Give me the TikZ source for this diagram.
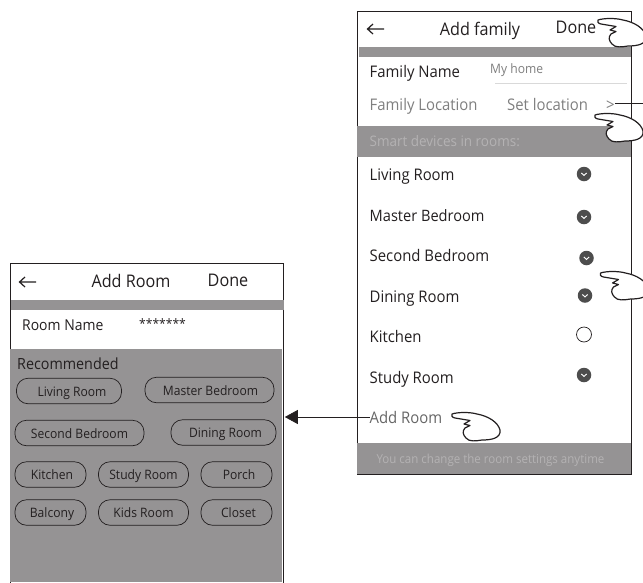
\documentclass[tikz,border=0pt]{standalone}
\usepackage{fontspec}
\setmainfont[FakeStretch=0.93]{Open Sans}
\usetikzlibrary{arrows.meta}
\definecolor{band}{HTML}{959394}
\definecolor{ink}{HTML}{231F20}
\definecolor{dim}{HTML}{7F7F7F}
\definecolor{faint}{HTML}{B4B2B3}
\definecolor{knob}{HTML}{4D4D4D}
\tikzset{
  panel/.style={draw=ink,line width=0.8pt,fill=white,inner sep=0pt,anchor=north west},
  grayband/.style={fill=band,draw=none},
  txt/.style={anchor=base west,inner sep=0pt,text=ink,font=\fontsize{16}{16}\selectfont},
  title/.style={anchor=base,inner sep=0pt,text=ink,font=\fontsize{17.4}{17}\selectfont},
  btn/.style={draw=ink,line width=0.7pt,rounded corners=11.5pt,inner sep=0pt,text=ink,
     font=\fontsize{13}{13}\selectfont,minimum height=25.5pt,text height=13pt,text depth=2.5pt},
  tick/.style={circle,fill=knob,minimum size=14.5pt,inner sep=0pt},
  back/.pic={\draw[ink,line width=1.2pt] (0,0) -- (16.5,0) (5.5,-5) -- (0,0) -- (5.5,5);},
  chk/.pic={\draw[white,line width=1pt] (-2.6,-1) -- (0,1.4) -- (2.6,-1);},
  hand/.pic={\draw[ink,line width=1.2pt,fill=white,line join=round]
    (0,0) .. controls (6,-2) and (18,-2) .. (25,0)
          .. controls (36,2) and (46,8) .. (48,16)
          .. controls (49,24) and (40,26) .. (30,26)
          .. controls (24,27) and (17,28) .. (14,24)
          .. controls (11,21) and (10,17) .. (13,14)
          -- (18,11.5) -- (12,10) -- (18,6.5) -- (3,4)
          .. controls (0,3.5) and (-1,1.5) .. (0,0) -- cycle;},
}
\begin{document}
\begin{tikzpicture}[x=1pt,y=-1pt]
\useasboundingbox (0,0) rectangle (643,582);
\clip (0,0) rectangle (643,582);
% right panel
\node[panel,minimum width=274pt,minimum height=463pt] (familypanel) at (357,11) {};
\fill[grayband] (359,47) rectangle (631,57);
\fill[grayband] (357,126) rectangle (631,157);
\fill[grayband] (357,443) rectangle (631,474);
\draw[line width=0.4pt,draw=black!15] (495,83) -- (627,83);
\pic at (367.5,29) {back};
\node[title] (addfamily) at (480,35) {Add family};
\node[title] (done1) at (576,33) {Done};
\node[txt] (famname) at (369.5,77) {Family Name};
\node[txt,text=dim,font=\fontsize{13}{13}\selectfont] (myhome) at (490,73) {My home};
\node[txt,text=dim] (famloc) at (369.5,110) {Family Location};
\node[txt,text=dim] (setloc) at (507,110) {Set location};
\node[txt,text=dim] (gt) at (606,110) {>};
\node[txt,text=faint,font=\fontsize{14.5}{14.5}\selectfont] (smart) at (369.5,146) {Smart devices in rooms:};
\node[txt] (r1) at (369.5,180) {Living Room};
\node[txt,font=\fontsize{15.7}{16}\selectfont] (r2) at (369.5,221) {Master Bedroom};
\node[txt] (r3) at (369.5,261) {Second Bedroom};
\node[txt] (r4) at (369.5,302) {Dining Room};
\node[txt] (r5) at (369.5,342) {Kitchen};
\node[txt] (r6) at (369.5,383) {Study Room};
\node[txt,text=black!60] (addroom) at (369.5,423) {Add Room};
\node[anchor=base,inner sep=0pt,text=faint,font=\fontsize{12.4}{12}\selectfont] (hint) at (490.5,463) {You can change the room settings anytime};
\node[tick] (t1) at (584,174) {}; \pic at (t1) {chk};
\node[tick] (t2) at (584,217) {}; \pic at (t2) {chk};
\node[tick] (t3) at (586.5,258) {}; \pic at (t3) {chk};
\node[tick] (t4) at (585,295.5) {}; \pic at (t4) {chk};
\node[circle,draw=ink,line width=0.7pt,fill=white,minimum size=15pt,inner sep=0pt] (t5) at (584,334.5) {};
\node[tick] (t6) at (584,375) {}; \pic at (t6) {chk};
% left panel
\node[panel,minimum width=272.5pt,minimum height=325pt] (roompanel) at (10,263) {};
\fill[grayband] (11,300) rectangle (284,310);
\fill[grayband] (10.4,349) rectangle (282.1,582);
\pic at (19.5,282) {back};
\node[title] (addroomtitle) at (131,287) {Add Room};
\node[title] (done2) at (228,286) {Done};
\node[txt,font=\fontsize{15}{15}\selectfont] (roomname) at (22,330) {Room Name};
\node[txt,font=\fontsize{13}{13}\selectfont] (stars) at (139,328) {*******};
\node[txt,font=\fontsize{15.4}{15}\selectfont] (rec) at (17,369) {Recommended};
\node[btn,minimum width=105pt] (b1) at (69,391) {\hspace*{6pt}Living Room};
\node[btn,minimum width=129pt] (b2) at (209.5,390) {\hspace*{2pt}Master Bedroom};
\node[btn,minimum width=129pt] (b3) at (79.5,433) {Second Bedroom};
\node[btn,minimum width=105pt] (b4) at (223.5,432.5) {\hspace*{4pt}Dining Room};
\node[btn,minimum width=71pt] (b5) at (50.5,474.5) {\hspace*{3pt}Kitchen};
\node[btn,minimum width=90pt] (b6) at (143.5,474.5) {Study Room};
\node[btn,minimum width=71pt] (b7) at (236.5,474.5) {\hspace*{5pt}Porch};
\node[btn,minimum width=71pt] (b8) at (50.5,512.5) {\hspace*{3pt}Balcony};
\node[btn,minimum width=90pt] (b9) at (143.5,512.5) {Kids Room};
\node[btn,minimum width=71pt] (b10) at (236.5,512.5) {\hspace*{4pt}Closet};
% connectors
\coordinate (locend) at (643,103);
\draw[ink,line width=0.6pt] (gt.east |- 0,103) -- (locend);
\draw[ink,line width=0.7pt,-{Triangle[length=13pt,width=14pt]}] (addroom.west) -- ([xshift=1.5pt]addroom.west -| roompanel.east);
% hands
\pic at (452,414) {hand};
\pic at (595,115) {hand};
\pic at (598,20) {hand};
\pic at (600.5,273) {hand};
\end{tikzpicture}
\end{document}
